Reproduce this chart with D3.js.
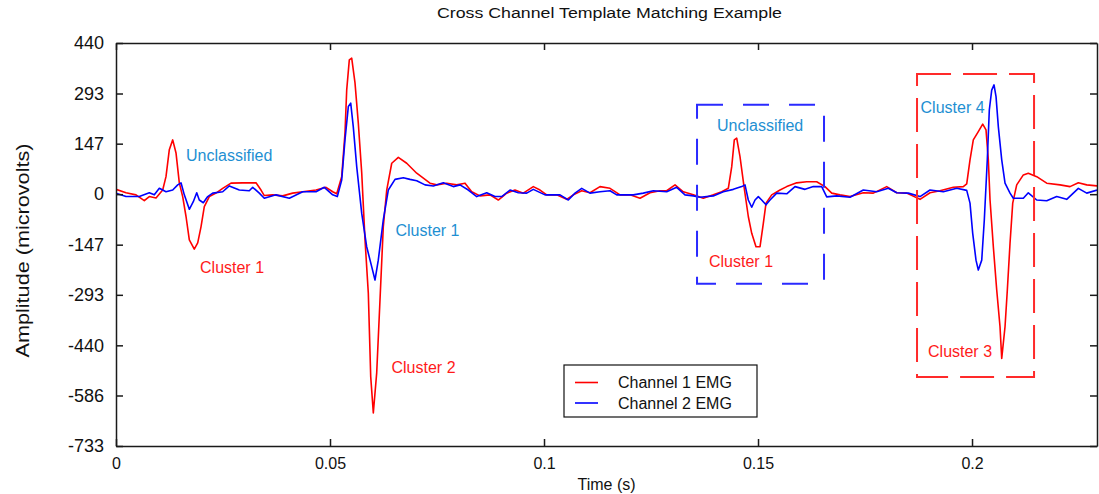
<!DOCTYPE html>
<html>
<head>
<meta charset="utf-8">
<script src="https://cdn.jsdelivr.net/npm/d3@7"></script>
<style>
  html, body { margin: 0; padding: 0; background: #ffffff; }
  svg { display: block; }
</style>
</head>
<body>
<svg id="chart" width="1099" height="494"></svg>
<script>
// Channel 1 EMG (red): time in seconds, amplitude in microvolts
const ch1Time = [0, 0.00234, 0.00467, 0.00661, 0.00778, 0.00935, 0.01091, 0.01168, 0.01245, 0.01325,
  0.01402, 0.01479, 0.01558, 0.01636, 0.01713, 0.01829, 0.01909, 0.01986, 0.02063, 0.02180,
  0.02336, 0.02493, 0.02687, 0.02960, 0.03271, 0.03388, 0.03465, 0.03661, 0.03895, 0.04128,
  0.04362, 0.04673, 0.04907, 0.05063, 0.05157, 0.05273, 0.05350, 0.05390, 0.05451, 0.05507,
  0.05584, 0.05661, 0.05741, 0.05818, 0.05895, 0.05951, 0.06012, 0.06091, 0.06168, 0.06245,
  0.06325, 0.06442, 0.06596, 0.06792, 0.07026, 0.07336, 0.07493, 0.07727, 0.07960, 0.08154,
  0.08311, 0.08505, 0.08738, 0.08932, 0.09128, 0.09322, 0.09516, 0.09750, 0.09907, 0.10063,
  0.10297, 0.10530, 0.10685, 0.10881, 0.11075, 0.11308, 0.11542, 0.11776, 0.12009, 0.12243,
  0.12477, 0.12710, 0.12867, 0.13061, 0.13255, 0.13488, 0.13722, 0.13956, 0.14152, 0.14306,
  0.14386, 0.14446, 0.14502, 0.14579, 0.14673, 0.14773, 0.14853, 0.14953, 0.15047, 0.15124,
  0.15187, 0.15320, 0.15514, 0.15671, 0.15904, 0.16138, 0.16371, 0.16565, 0.16722, 0.16916,
  0.17150, 0.17460, 0.17694, 0.18007, 0.18241, 0.18474, 0.18785, 0.19019, 0.19252, 0.19563,
  0.19797, 0.19876, 0.19953, 0.20030, 0.20147, 0.20250, 0.20327, 0.20381, 0.20421, 0.20498,
  0.20577, 0.20654, 0.20694, 0.20771, 0.20825, 0.20888, 0.20951, 0.21044, 0.21199, 0.21315,
  0.21512, 0.21745, 0.22056, 0.22290, 0.22484, 0.22680, 0.22921];
const ch1Amp = [14, 4, -2, -19, -7, -11, 12, 51, 129, 158,
  120, 33, -7, -65, -133, -160, -142, -95, -36, -7,
  3, 17, 32, 33, 33, 12, -4, -2, -5, 3,
  7, 12, 20, 7, 1, 51, 178, 303, 391, 396,
  324, 207, 62, -133, -288, -531, -637, -520, -308, -95,
  12, 90, 107, 90, 61, 32, 27, 32, 27, 32,
  7, -5, -2, -17, 3, 12, 3, 22, 12, -2,
  -2, -15, -2, 10, 4, 22, 17, -2, -2, -12,
  4, 10, 10, 27, 7, -2, -12, -2, 7, 17,
  80, 158, 163, 109, 22, -65, -114, -153, -153, -85,
  -26, -2, 12, 22, 33, 36, 36, 22, 3, -2,
  -7, 4, 3, 22, 4, 3, -15, 4, 10, 20,
  22, 30, 100, 158, 182, 204, 187, 100, -17, -153,
  -279, -386, -478, -386, -279, -143, -26, 27, 56, 61,
  51, 32, 27, 22, 33, 27, 24];

// Channel 2 EMG (blue): time in seconds, amplitude in microvolts
const ch2Time = [0, 0.00234, 0.00544, 0.00778, 0.00895, 0.01012, 0.01168, 0.01325, 0.01442, 0.01519,
  0.01596, 0.01713, 0.01806, 0.01886, 0.01946, 0.02040, 0.02143, 0.02259, 0.02493, 0.02647,
  0.02881, 0.03114, 0.03194, 0.03348, 0.03465, 0.03738, 0.04049, 0.04362, 0.04673, 0.04867,
  0.05063, 0.05171, 0.05273, 0.05350, 0.05428, 0.05484, 0.05544, 0.05624, 0.05741, 0.05857,
  0.05974, 0.06051, 0.06128, 0.06245, 0.06362, 0.06519, 0.06713, 0.06869, 0.07026, 0.07220,
  0.07414, 0.07647, 0.07881, 0.08037, 0.08231, 0.08428, 0.08661, 0.08855, 0.09012, 0.09206,
  0.09400, 0.09596, 0.09750, 0.10023, 0.10374, 0.10568, 0.10724, 0.10881, 0.11075, 0.11308,
  0.11542, 0.11699, 0.12086, 0.12320, 0.12554, 0.12867, 0.13100, 0.13294, 0.13488, 0.13645,
  0.13956, 0.14189, 0.14423, 0.14619, 0.14696, 0.14773, 0.14853, 0.14930, 0.15007, 0.15086,
  0.15187, 0.15280, 0.15437, 0.15671, 0.15864, 0.16098, 0.16292, 0.16488, 0.16605, 0.16839,
  0.17150, 0.17460, 0.17773, 0.18044, 0.18241, 0.18512, 0.18785, 0.19019, 0.19330, 0.19643,
  0.19876, 0.19953, 0.20016, 0.20093, 0.20147, 0.20227, 0.20287, 0.20357, 0.20404, 0.20460,
  0.20514, 0.20561, 0.20615, 0.20694, 0.20771, 0.20888, 0.20965, 0.21199, 0.21315, 0.21512,
  0.21745, 0.21979, 0.22212, 0.22484, 0.22680, 0.22921];
const ch2Amp = [3, -7, -7, 4, -2, 17, 7, 12, 27, 33,
  -2, -44, -22, 4, -17, -25, -7, 3, 7, 24,
  12, 10, 20, 3, -12, -2, -12, 7, 7, 20,
  -2, -7, 41, 158, 255, 265, 196, 80, -56, -153,
  -211, -250, -192, -75, 12, 43, 48, 43, 39, 27,
  24, 33, 22, 27, 12, -7, 4, -7, -7, 12,
  4, 3, 14, -2, -2, -17, 3, 17, 3, 7,
  10, -2, -2, 3, 10, 7, 20, -2, -5, -9,
  -5, 7, 14, 22, 27, -17, -38, -17, -7, -17,
  -31, -17, 3, 1, 22, 14, 22, 22, -8, -5,
  -9, 12, 7, 17, 4, 3, -7, 12, 7, 17,
  11, -26, -114, -192, -221, -192, -75, 100, 245, 303,
  318, 284, 196, 100, 32, 3, -12, -12, 4, -17,
  -19, -7, -15, 17, 3, 12];

// Axis ticks
const xTicks = [0, 0.05, 0.1, 0.15, 0.2];
const xTickLabels = ["0", "0.05", "0.1", "0.15", "0.2"];
const yTicks = [440, 293, 147, 0, -147, -293, -440, -586, -733];
const yTickLabels = ["440", "293", "147", "0", "-147", "-293", "-440", "-586", "-733"];

// Series names for the legend
const seriesNames = ["Channel 1 EMG", "Channel 2 EMG"];

// Annotation labels: text, anchor time (s), anchor amplitude (uV), kind
const noteText = ["Unclassified", "Cluster 1", "Cluster 1", "Cluster 2", "Unclassified", "Cluster 1", "Cluster 4", "Cluster 3"];
const noteTime = [0.01636, 0.01963, 0.06530, 0.06437, 0.14042, 0.13855, 0.18797, 0.18972];
const noteAmp = [97, -229, -122, -520, 184, -212, 236, -474];
const noteKind = ["ch2", "ch1", "ch2", "ch1", "ch2", "ch1", "ch2", "ch1"];

// Highlight boxes around events: [t0, t1] x [a0, a1]
const boxT0 = [0.13575, 0.18715];
const boxT1 = [0.16542, 0.21449];
const boxA0 = [-261, -532];
const boxA1 = [260, 350];
const boxKind = ["ch2", "ch1"];

// ---- layout and styles ----
const W = 1099, H = 494;
const plot = { left: 116, right: 1097, top: 43, bottom: 446 };
const lineColor = { ch1: "#ff0000", ch2: "#0000ff" };
const labelColor = { ch1: "#ff1a1a", ch2: "#1e8fd2" };
const boxColor = { ch1: "#ff2a2a", ch2: "#2a2aff" };
const boxDash = { ch1: "34,12", ch2: "26,20" };
const font = "'Liberation Sans', Arial, sans-serif";

const svg = d3.select("#chart");

const x = d3.scaleLinear().domain([0, 0.2292]).range([plot.left, plot.right]);
const y = d3.scaleLinear().domain([-733, 440]).range([plot.bottom, plot.top]);

// Title
svg.append("text")
  .attr("x", (plot.left + plot.right) / 2 + 3)
  .attr("y", 18)
  .attr("text-anchor", "middle")
  .attr("font-family", font)
  .attr("font-size", 14)
  .attr("textLength", 345)
  .attr("lengthAdjust", "spacingAndGlyphs")
  .attr("fill", "#111")
  .text("Cross Channel Template Matching Example");

// Annotation labels (drawn beneath the traces)
const notes = d3.range(noteText.length).map(i => ({
  text: noteText[i], t: noteTime[i], a: noteAmp[i], kind: noteKind[i]
}));
svg.append("g").selectAll("text").data(notes).join("text")
  .attr("x", d => x(d.t))
  .attr("y", d => y(d.a))
  .attr("font-family", font)
  .attr("font-size", 16)
  .attr("fill", d => labelColor[d.kind])
  .text(d => d.text);

// Traces
const line = d3.line().x(d => x(d[0])).y(d => y(d[1]));
const ch1 = ch1Time.map((t, i) => [t, ch1Amp[i]]);
const ch2 = ch2Time.map((t, i) => [t, ch2Amp[i]]);

const clip = svg.append("clipPath").attr("id", "plotClip")
  .append("rect")
  .attr("x", plot.left).attr("y", plot.top)
  .attr("width", plot.right - plot.left).attr("height", plot.bottom - plot.top);

const traces = svg.append("g").attr("clip-path", "url(#plotClip)");
traces.append("path").datum(ch1)
  .attr("d", line).attr("fill", "none")
  .attr("stroke", lineColor.ch1).attr("stroke-width", 1.6)
  .attr("stroke-linejoin", "round");
traces.append("path").datum(ch2)
  .attr("d", line).attr("fill", "none")
  .attr("stroke", lineColor.ch2).attr("stroke-width", 1.6)
  .attr("stroke-linejoin", "round");

// Dashed highlight boxes
const boxes = d3.range(boxT0.length).map(i => ({
  t0: boxT0[i], t1: boxT1[i], a0: boxA0[i], a1: boxA1[i], kind: boxKind[i]
}));
svg.append("g").selectAll("rect").data(boxes).join("rect")
  .attr("x", d => x(d.t0))
  .attr("y", d => y(d.a1))
  .attr("width", d => x(d.t1) - x(d.t0))
  .attr("height", d => y(d.a0) - y(d.a1))
  .attr("fill", "none")
  .attr("stroke", d => boxColor[d.kind])
  .attr("stroke-width", 2)
  .attr("stroke-dasharray", d => boxDash[d.kind]);

// Axes: frame with inward ticks on all four sides
const tickLen = 7;
const axisColor = "#1a1a1a";
const fmtX = (d, i) => xTickLabels[i];
const fmtY = (d, i) => yTickLabels[i];

const gBottom = svg.append("g").attr("transform", `translate(0,${plot.bottom})`)
  .call(d3.axisBottom(x).tickValues(xTicks).tickFormat(fmtX).tickSizeInner(-tickLen).tickSizeOuter(0).tickPadding(12));
const gTop = svg.append("g").attr("transform", `translate(0,${plot.top})`)
  .call(d3.axisTop(x).tickValues(xTicks).tickFormat("").tickSizeInner(-tickLen).tickSizeOuter(0));
const gLeft = svg.append("g").attr("transform", `translate(${plot.left},0)`)
  .call(d3.axisLeft(y).tickValues(yTicks).tickFormat(fmtY).tickSizeInner(-tickLen).tickSizeOuter(0).tickPadding(12));
const gRight = svg.append("g").attr("transform", `translate(${plot.right},0)`)
  .call(d3.axisRight(y).tickValues(yTicks).tickFormat("").tickSizeInner(-tickLen).tickSizeOuter(0));

[gBottom, gTop, gLeft, gRight].forEach(g => {
  g.select(".domain").attr("stroke", axisColor).attr("stroke-width", 1.5);
  g.selectAll(".tick line").attr("stroke", axisColor).attr("stroke-width", 1.5);
  g.selectAll(".tick text").attr("font-family", font).attr("fill", "#111");
});
gBottom.selectAll(".tick text").attr("font-size", 16).attr("dy", "0.71em");
gLeft.selectAll(".tick text").attr("font-size", 18);

// Axis titles
svg.append("text")
  .attr("x", (plot.left + plot.right) / 2)
  .attr("y", 490)
  .attr("text-anchor", "middle")
  .attr("font-family", font)
  .attr("font-size", 16)
  .attr("fill", "#111")
  .text("Time (s)");

svg.append("text")
  .attr("transform", `translate(29,${(plot.top + plot.bottom) / 2 + 6}) rotate(-90)`)
  .attr("text-anchor", "middle")
  .attr("font-family", font)
  .attr("font-size", 18)
  .attr("textLength", 214)
  .attr("lengthAdjust", "spacingAndGlyphs")
  .attr("fill", "#111")
  .text("Amplitude (microvolts)");

// Legend
const legend = svg.append("g").attr("transform", "translate(564,365)");
legend.append("rect")
  .attr("width", 193).attr("height", 52)
  .attr("fill", "#ffffff").attr("stroke", "#111").attr("stroke-width", 1.2);
const legendItems = legend.selectAll("g.item").data(seriesNames).join("g")
  .attr("class", "item")
  .attr("transform", (d, i) => `translate(0,${17.5 + i * 20.5})`);
legendItems.append("line")
  .attr("x1", 11).attr("x2", 34).attr("y1", 0).attr("y2", 0)
  .attr("stroke", (d, i) => i === 0 ? lineColor.ch1 : lineColor.ch2)
  .attr("stroke-width", 1.6);
legendItems.append("text")
  .attr("x", 54).attr("y", 5.5)
  .attr("font-family", font)
  .attr("font-size", 16)
  .attr("fill", "#111")
  .text(d => d);
</script>
</body>
</html>
